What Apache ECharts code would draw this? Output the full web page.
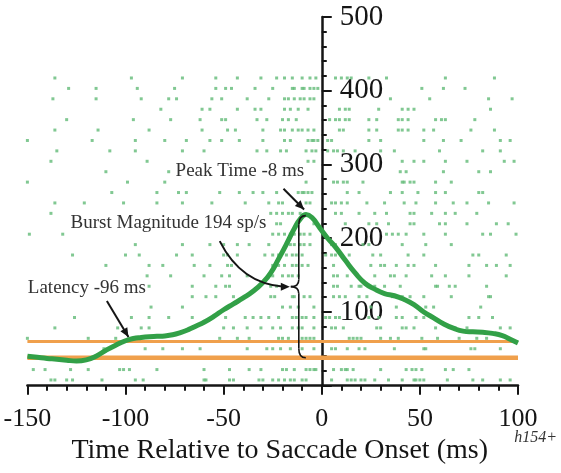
<!DOCTYPE html>
<html>
<head>
<meta charset="utf-8">
<script src="https://cdn.jsdelivr.net/npm/echarts@6/dist/echarts.min.js"></script>
<style>
  html, body { margin: 0; padding: 0; background: #fff; }
  #chart { width: 561px; height: 473px; }
</style>
</head>
<body>
<div id="chart"></div>
<script>
// Spike density function (sp/s) aligned on saccade onset (ms)
const curveTimes = [-150,-145,-140,-135,-130,-125,-120,-115,-110,-105,
  -100,-96,-92,-88,-84,-80,-76,-72,-68,-64,
  -60,-55,-50,-45,-40,-35,-30,-26,-22,-18,
  -14,-11,-8,-5,-1,3,7,12,17,22,
  27,32,37,42,47,52,57,62,67,72,
  77,82,87,92,96,100];
const curveRates = [40,38.5,37,36,34.5,33.5,35,40,48,55,
  61,64,65.5,66.5,67,67.5,69,72,76,81,
  86,94,103,111,119,128,140,153,172,192,
  213,226,232,228,214,200,188,170,153,139,
  131,125,122,117,110,100,92,84,78,74,
  73,72.5,71,68,63,58];

// Horizontal reference levels (sp/s): burst threshold and baseline
const thresholdRate = 60;
const baselineRate = 38;

// Annotated measures
const peakTime = -8;
const burstMagnitude = 194;
const latencyTime = -96;

// Spike times (ms) for each trial, top row first
const spikeRows = [
  [-136,-97,-71,-54,-43,-31,-23,-19,-15,-10,-6,-3,7,10,13,15,24,33,63,88],
  [-129,-115,-94,-75,-54,-49,-46,-34,-25,-15,-14,-10,-9,-6,-4,-2,51,62,73],
  [-137,-115,-92,-78,-74,-56,-51,-38,-27,-19,-17,-14,-11,-9,-6,-4,35,55,85,97],
  [-82,-61,-57,-43,-34,-31,-19,-16,-12,-7,9,12,14,29,41,44,47,86],
  [-130,-96,-77,-62,-51,-49,-33,-28,-20,-17,-13,4,7,9,12,14,24,28,39,41,44,58,61,63,78],
  [-136,-114,-88,-61,-48,-44,-30,-21,-19,-15,-12,-10,-7,-4,9,11,24,28,39,41,44,52,57,76,88],
  [-150,-117,-95,-80,-69,-57,-51,-42,-30,-19,-16,-7,-5,-4,-2,3,5,24,30,52,62,71,91,96],
  [-135,-108,-95,-71,-60,-33,-28,-21,-18,-8,-5,-3,3,6,8,11,17,30,37,60,82,91],
  [-138,-89,-7,-4,41,47,52,63,74,93,98],
  [-110,-78,40,43,62,80,86],
  [-150,-99,-80,-8,6,8,11,13,21,41,42,45,47,58,66],
  [-107,-84,-73,-69,-52,-42,-35,-30,-23,-12,-10,-9,-7,-5,13,19,35,41,49,58,63,80,82],
  [-136,-121,-101,-84,-71,-56,-39,-27,-22,-20,-8,-6,5,7,10,13,23,32,42,48,58,67,74,85,98],
  [-138,-26,-23,-20,-17,-15,-11,7,10,19,27,33,45,47,56,63,68,79],
  [-23,-21,-4,12,24,28,34,45,47,60,63,74,89,95],
  [-149,-132,-25,-22,-19,-16,-14,-11,-9,-6,33,36,39,43,52,63,82,86,99],
  [-95,-71,-57,-50,-43,-37,-27,-16,-14,-11,-9,-6,5,7,21,24,41,53,66],
  [-127,-100,-93,-74,-66,-50,-48,-43,-29,-25,-22,-18,-15,-13,-10,2,5,7,14,26,30,44,52,77,80,94],
  [-110,-88,-81,-65,-57,-48,-46,-25,-22,-19,-15,-13,-10,-7,6,25,30,32,38,44,47,58,75,84,89,96],
  [-89,-77,-60,-51,-47,-38,-25,-20,-17,-15,-12,6,8,13,27,35,37,43,56,63,75,94],
  [-88,-66,-54,-49,-47,-26,-23,6,8,15,19,20,24,27,32,40,58,59,65,68,84],
  [-66,-59,-54,-45,-26,-24,-15,-14,-9,-6,6,9,12,19,23,36,41,45,52,66,85,86],
  [-87,-71,-20,-16,-12,-4,25,38,53,57,81],
  [-126,-97,-88,-78,-66,-49,-39,-35,-31,-27,-22,-15,-13,-10,-8,-4,2,4,7,9,24,29,38,41,48,52,75,80,87],
  [-136,-104,-92,-88,-50,-45,-38,-31,-25,-21,-15,-12,-10,-4,5,7,11,28,30,41,43,47,58,68,74,91,96],
  [-150,-119,-105,-52,-43,-37,-22,-20,-17,-10,-8,-6,-4,14,16,18,20,30,35,39,51,59,70,79,84],
  [-111,-90,-81,-71,-62,-38,-28,-25,-21,-16,-10,-4,5,7,13,19,22,37,52,53,76,78,91],
  [],
  [-147,-141,-128,-119,-103,-101,-98,-84,-60,-47,-37,-31,-20,-18,-14,-8,-6,-4,-3,6,10,12,13,16,30,43,46,48,51,63,67,75],
  [-138,-136,-130,-127,-112,-95,-91,-60,-59,-47,-45,-32,-30,-25,-22,-19,-16,-14,-10,-8,5,13,15,17,20,22,27,34,41,47,48,50,52,64,77,82,91,96]
];

const serif = '"Liberation Serif", "Times New Roman", serif';
const ink = '#151515';

const timeMin = -150, timeMax = 100;
const gridBox = { left: 27.4, right: 43, top: 17, bottom: 87.3 };
const chartWidth = 561;
// the rate axis stands on time zero: shift it left from the grid's right edge
const plotWidth = chartWidth - gridBox.left - gridBox.right;
const zeroShift = -plotWidth * (timeMax - 0) / (timeMax - timeMin);

const chart = echarts.init(document.getElementById('chart'), null, { renderer: 'canvas' });

const rasterPoints = [];
spikeRows.forEach((row, i) => row.forEach(t => rasterPoints.push([t, i + 1])));

const curvePoints = curveTimes.map((t, i) => [t, curveRates[i]]);

chart.setOption({
  animation: false,
  backgroundColor: '#fff',
  grid: Object.assign({ containLabel: false, outerBoundsMode: 'none' }, gridBox),
  xAxis: {
    type: 'value', min: timeMin, max: timeMax, interval: 50,
    axisLine: { onZero: false, lineStyle: { color: ink, width: 2.5 } },
    axisTick: { length: 9, lineStyle: { color: ink, width: 2 } },
    minorTick: { show: true, splitNumber: 5, length: 5, lineStyle: { color: ink, width: 2 } },
    splitLine: { show: false },
    minorSplitLine: { show: false },
    axisLabel: { fontFamily: serif, fontSize: 26, color: ink, margin: 20 },
    name: 'Time Relative to Saccade Onset (ms)',
    nameLocation: 'middle', nameGap: 51,
    nameTextStyle: { fontFamily: serif, fontSize: 28, color: ink, padding: [0, 0, 0, 14] }
  },
  yAxis: [
    {
      type: 'value', min: 0, max: 500, interval: 100, position: 'right', offset: zeroShift,
      axisLine: { show: true, onZero: false, lineStyle: { color: ink, width: 2.5 } },
      axisTick: { show: true, length: 10, lineStyle: { color: ink, width: 2 } },
      minorTick: { show: true, splitNumber: 5, length: 5, lineStyle: { color: ink, width: 2 } },
      splitLine: { show: false },
      minorSplitLine: { show: false },
      axisLabel: { fontFamily: serif, fontSize: 29, color: ink, margin: 18, showMinLabel: false }
    },
    // trial rows of the raster, first trial at the top
    { type: 'value', min: -4.857, max: 30.55, inverse: true, show: false }
  ],
  series: [
    {
      type: 'scatter', name: 'spikes', xAxisIndex: 0, yAxisIndex: 1,
      data: rasterPoints, symbol: 'rect', symbolSize: 3,
      itemStyle: { color: '#62ba77' }, silent: true, z: 1
    },
    {
      type: 'line', name: 'threshold', yAxisIndex: 0,
      data: [[timeMin, thresholdRate], [timeMax, thresholdRate]],
      symbol: 'none', lineStyle: { color: '#f0a04c', width: 3 }, silent: true, z: 2
    },
    {
      type: 'line', name: 'baseline', yAxisIndex: 0,
      data: [[timeMin, baselineRate], [timeMax, baselineRate]],
      symbol: 'none', lineStyle: { color: '#f0a04c', width: 4.5 }, silent: true, z: 2
    },
    {
      type: 'line', name: 'rate', yAxisIndex: 0,
      data: curvePoints, smooth: 0.5, symbol: 'none',
      lineStyle: { color: '#32a047', width: 5 }, silent: true, z: 3
    }
  ]
});

// ---- annotations: labels, arrows and the brace for burst magnitude ----
const px = (t, v) => chart.convertToPixel({ xAxisIndex: 0, yAxisIndex: 0 }, [t, v]);

function arrowHead(tip, from, len, half) {
  const dx = tip[0] - from[0], dy = tip[1] - from[1];
  const d = Math.hypot(dx, dy);
  const ux = dx / d, uy = dy / d;
  const bx = tip[0] - ux * len, by = tip[1] - uy * len;
  return {
    type: 'polygon', z: 20, silent: true,
    shape: { points: [tip, [bx - uy * half, by + ux * half], [bx + uy * half, by - ux * half]] },
    style: { fill: ink }
  };
}

function straight(a, b, w) {
  return {
    type: 'line', z: 18, silent: true,
    shape: { x1: a[0], y1: a[1], x2: b[0], y2: b[1] },
    style: { stroke: ink, lineWidth: w }
  };
}

function curve(a, c, b, w) {
  return {
    type: 'bezierCurve', z: 18, silent: true,
    shape: { x1: a[0], y1: a[1], cpx1: c[0], cpy1: c[1], x2: b[0], y2: b[1] },
    style: { stroke: ink, lineWidth: w, fill: null }
  };
}

function label(text, anchor) {
  return {
    type: 'text', z: 15, silent: true,
    x: anchor[0], y: anchor[1],
    style: {
      text: text, fontFamily: serif, fontSize: 19, fill: '#333',
      textAlign: 'left', textVerticalAlign: 'middle',
      backgroundColor: '#fff', padding: [0, 1]
    }
  };
}

const peakV = baselineRate + burstMagnitude;
const bx = px(-11.7, 0)[0];
const bTop = px(0, peakV)[1] + 1;
const bBot = px(0, baselineRate)[1];
const bMid = (bTop + bBot) / 2;

const burstStart = px(-52, 196);
const burstCtrl = px(-41, 138);
const burstEnd = [bx - 9, bMid];

const peakFrom = px(peakTime - 11.5, 267);
const peakTip = px(peakTime - 1, 239);
const latFrom = px(latencyTime - 13.5, 115);
const latTip = px(latencyTime - 2.5, 66);

const graphics = [
  label('Peak Time ' + peakTime + ' ms', px(-75, 291)),
  label('Burst Magnitude ' + burstMagnitude + ' sp/s', px(-128.5, 220)),
  label('Latency ' + latencyTime + ' ms', px(-150.3, 132)),
  // brace spanning baseline to peak, pointing left
  curve([bx + 7, bTop], [bx, bTop], [bx, bTop + 9], 1.6),
  straight([bx, bTop + 9], [bx, bMid - 7], 1.6),
  curve([bx, bMid - 7], [bx, bMid], [bx - 8, bMid], 1.6),
  curve([bx - 8, bMid], [bx, bMid], [bx, bMid + 7], 1.6),
  straight([bx, bMid + 7], [bx, bBot - 9], 1.6),
  curve([bx, bBot - 9], [bx, bBot], [bx + 7, bBot], 1.6),
  // curved arrow from the magnitude label to the brace
  curve(burstStart, burstCtrl, [burstEnd[0] - 6, burstEnd[1]], 2),
  arrowHead(burstEnd, [burstEnd[0] - 10, burstEnd[1]], 9, 4),
  straight(peakFrom, peakTip, 2),
  arrowHead(peakTip, peakFrom, 9, 4),
  straight(latFrom, latTip, 2),
  arrowHead(latTip, latFrom, 9, 4),
  {
    type: 'text', z: 15, silent: true, right: 4, top: 430,
    style: { text: 'h154+', fontFamily: serif, fontSize: 16, fontStyle: 'italic', fill: '#333' }
  }
];

chart.setOption({ graphic: graphics });
</script>
</body>
</html>
